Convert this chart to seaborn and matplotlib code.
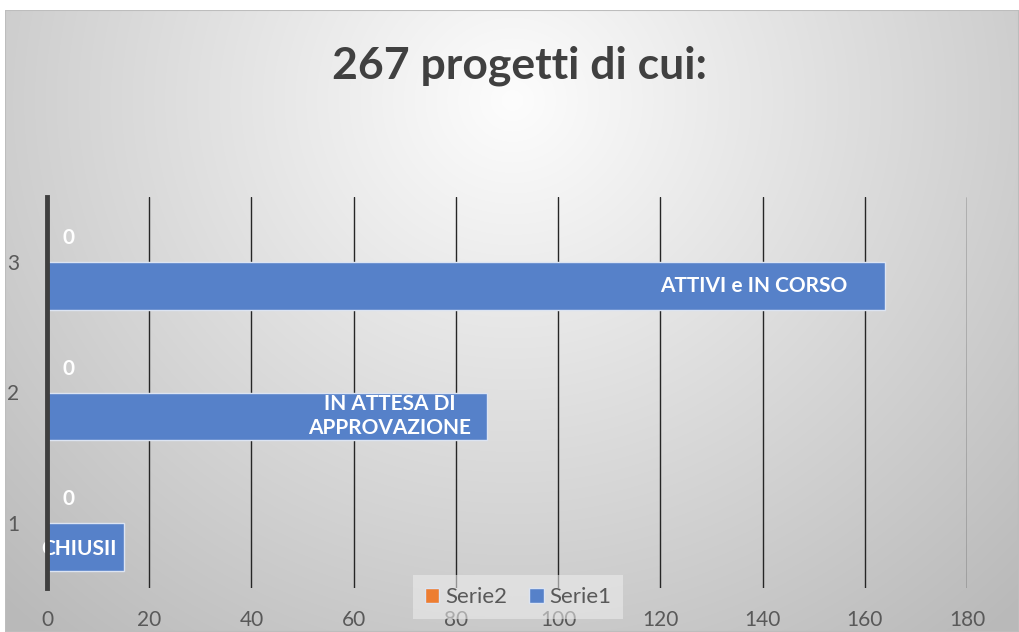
import numpy as np
import pandas as pd
import seaborn as sns
import matplotlib.pyplot as plt
from matplotlib.patches import Rectangle

# data
categories = ['3', '2', '1']
serie1 = [164, 86, 15]
serie2 = [0, 0, 0]
bar_labels = ['ATTIVI e IN CORSO', 'IN ATTESA DI\nAPPROVAZIONE', 'CHIUSII']
x_ticks = [0, 20, 40, 60, 80, 100, 120, 140, 160, 180]

df = pd.DataFrame({
    'cat': categories * 2,
    'serie': ['Serie2'] * 3 + ['Serie1'] * 3,
    'val': serie2 + serie1,
})

sns.set_theme(style='white')
plt.rcParams['font.family'] = ['Lato', 'DejaVu Sans']

W, H = 1019, 632
fig = plt.figure(figsize=(W / 100, H / 100), dpi=100)
fig.patch.set_facecolor('white')

# radial gray gradient behind the chart (Excel-style)
bg = fig.add_axes([5 / W, 0, 1 - 5 / W, 622 / H])
yy, xx = np.mgrid[0:622, 0:1014]
d = np.sqrt(((xx - 507) / 1.05) ** 2 + ((yy - 90) * 1.0) ** 2)
val = np.clip(253 - 60 * (d / 620), 185, 255) / 255
bg.imshow(np.dstack([val, val, val]), aspect='auto', extent=[0, 1, 0, 1])
bg.add_patch(Rectangle((0, 0), 1, 1, transform=bg.transAxes, fill=False,
                       edgecolor='#bdbdbd', lw=1.5))
bg.set_axis_off()

ax = fig.add_axes([47 / W, 1 - 588 / H, 920 / W, 391 / H])
ax.set_facecolor('none')
sns.barplot(data=df, y='cat', x='val', hue='serie', order=categories,
            hue_order=['Serie2', 'Serie1'],
            palette={'Serie2': '#ED7D31', 'Serie1': '#5681C9'},
            orient='h', width=0.736, saturation=1, ax=ax,
            edgecolor='#dce4f2', linewidth=1)

ax.set_xlim(0, 180)
ax.set_ylim(2.5, -0.5)
ax.set_xticks(x_ticks)
ax.grid(axis='x', color='#262626', lw=1)
ax.grid(axis='y', visible=False)
ax.set_axisbelow(True)
for s in ['top', 'right', 'bottom']:
    ax.spines[s].set_visible(False)
ax.spines['left'].set_color('#3f3f3f')
ax.spines['left'].set_linewidth(3.5)
ax.spines['left'].set_zorder(5)
ax.tick_params(axis='x', length=0, pad=16, labelsize=15, labelcolor='#595959')
ax.tick_params(axis='y', length=0, pad=20, labelsize=15, labelcolor='#595959')
ax.set_xlabel('')
ax.set_ylabel('')

# data labels
for i, v in enumerate(serie2):
    ax.text(v + 3.0, i - 0.184, str(v), color='white', fontsize=15,
            fontweight='bold', ha='left', va='center')
offsets = [7.5, 3.0, -1.3]
for i, (v, lab) in enumerate(zip(serie1, bar_labels)):
    if i == 2:
        ax.text(v / 2 - 1.2, i + 0.2, lab, color='white', fontsize=15,
                fontweight='bold', ha='center', va='center')
    else:
        ax.text(v - offsets[i], i + 0.184, lab, color='white', fontsize=15,
                fontweight='bold', ha='right', va='center', linespacing=1.25,
                multialignment='center')

leg = ax.legend(loc='center', bbox_to_anchor=(518 / W, 1 - 597 / H),
                bbox_transform=fig.transFigure, ncol=2, frameon=True,
                fontsize=16, handlelength=0.65, handleheight=0.65,
                handletextpad=0.25, columnspacing=1.0, borderpad=0.55)
leg.get_frame().set_facecolor('#eeeeee')
leg.get_frame().set_alpha(0.55)
leg.get_frame().set_edgecolor('none')
leg.get_frame().set_boxstyle('square', pad=0)
for t in leg.get_texts():
    t.set_color('#595959')

fig.text(520 / W, 1 - 66 / H, '267 progetti di cui:', ha='center', va='center',
         fontsize=32, fontweight='bold', color='#404040')

fig.savefig('out.png', dpi=100)
